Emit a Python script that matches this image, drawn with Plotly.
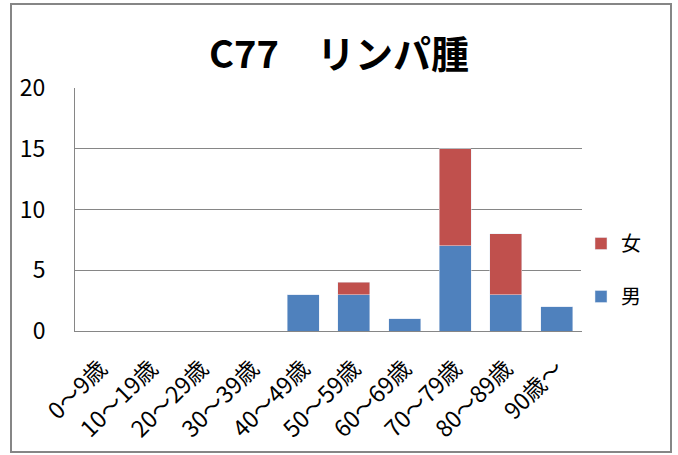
import plotly.graph_objects as go

categories = ["0～9歳", "10～19歳", "20～29歳", "30～39歳", "40～49歳",
              "50～59歳", "60～69歳", "70～79歳", "80～89歳", "90歳～"]
male = [0, 0, 0, 0, 3, 3, 1, 7, 3, 2]
female = [0, 0, 0, 0, 0, 1, 0, 8, 5, 0]

font_family = "Noto Sans CJK JP, Noto Sans, sans-serif"

fig = go.Figure()
fig.add_trace(go.Bar(x=categories, y=male, name="男", marker_color="#4F81BD",
                     legendgroup="m", legendrank=2))
fig.add_trace(go.Bar(x=categories, y=female, name="女", marker_color="#C0504D",
                     legendgroup="f", legendrank=1))

W, H = 678, 455
L, R, T, B = 75, 96, 88, 124
pw, ph = W - L - R, H - T - B

def px_x(x):
    return (x - L) / pw

def px_y(y):
    return (T + ph - y) / ph

fig.update_layout(
    barmode="stack",
    bargap=0.37,
    width=W, height=H,
    margin=dict(l=L, r=R, t=T, b=B, autoexpand=False),
    paper_bgcolor="white", plot_bgcolor="white",
    font=dict(family=font_family, color="black"),
    title=dict(text="<b>C77　リンパ腫</b>", x=0.5, xanchor="center",
               y=1 - 55 / H, yanchor="middle", font=dict(size=38)),
    legend=dict(traceorder="grouped", x=px_x(581), xanchor="left",
                y=px_y(270), yanchor="middle", font=dict(size=20),
                tracegroupgap=24),
    showlegend=True,
)
fig.update_yaxes(range=[0, 20], dtick=5, showgrid=True, gridcolor="#868686",
                 gridwidth=1, showline=True, linecolor="#868686",
                 tickfont=dict(size=23), ticks="", ticklabelstandoff=24,
                 zeroline=False)
fig.update_xaxes(showline=True, linecolor="#868686", tickangle=-45,
                 tickfont=dict(size=23), ticks="", ticklabelstandoff=14)

# outer chart frame
fig.add_shape(type="rect", xref="paper", yref="paper",
              x0=px_x(11), x1=px_x(671), y0=px_y(452), y1=px_y(4),
              line=dict(color="#868686", width=2), layer="below")

fig.write_html("out.html", config={"displayModeBar": False},
               post_script="document.body.style.margin='0';")
